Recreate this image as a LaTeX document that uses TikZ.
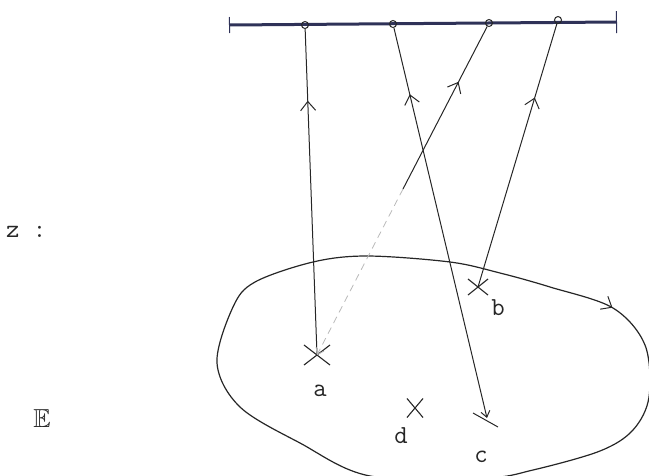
\documentclass[tikz,border=0pt]{standalone}
\usepackage{amssymb}
\usetikzlibrary{arrows.meta,calc,positioning,shapes.misc,decorations.markings}
\definecolor{RulerBlue}{HTML}{2F3258}
\definecolor{InkGray}{HTML}{262626}

\begin{document}
\begin{tikzpicture}[
    x=1pt, y=-1pt,
    every node/.style={font=\fontsize{26}{28}\selectfont\ttfamily, text=InkGray},
    pt/.style={cross out, draw=InkGray, line width=1.1pt, inner sep=0pt},
    hole/.style={circle, draw=InkGray, line width=1pt, inner sep=0pt, minimum size=7pt},
    lbl/.style={inner sep=0pt},
    ray/.style={draw=InkGray, line width=1pt},
    faintray/.style={draw=gray!55, line width=0.8pt, dash pattern=on 7pt off 5pt},
    ruler/.style={draw=RulerBlue, line width=3pt, {Bar[width=16pt,line width=1pt]}-{Bar[width=22pt,line width=1pt]}},
    midarrow/.style={postaction={decorate}, decoration={markings, mark=at position #1 with {\arrow{Straight Barb[length=9pt,width=15pt,line width=1pt]}}}},
    boundary/.style={draw=InkGray, line width=1.2pt}
]
  \useasboundingbox (0,0) rectangle (649,475);

  \node[lbl, anchor=base west] (zlab) at (6,237) {z :};
  \node[lbl] (elab) at (42,419) {$\mathbb{E}$};

  \coordinate (rl) at (229,25);
  \coordinate (rr) at (617,22);
  \draw[ruler] (rl) -- (rr);

  \node[hole] (p1) at (305,25) {};
  \node[hole] (p2) at (393,24) {};
  \node[hole] (p3) at (489,23) {};
  \node[hole] (p4) at (558,20) {};

  \node[pt, minimum width=25pt, minimum height=19pt] (a) at (317,355) {};
  \node[pt, minimum width=19pt, minimum height=15pt] (b) at (478,287) {};
  \node[pt, minimum width=15pt, minimum height=18pt] (d) at (415,408) {};
  \coordinate (c) at (487,418);

  \node[lbl, below=20pt of a, xshift=3pt] (la) {a};
  \node[lbl, below right=4pt and 3pt of b] (lb) {b};
  \node[lbl, below=33pt of c, xshift=-6pt] (lc) {c};
  \node[lbl, below=10pt of d, xshift=-14pt] (ld) {d};

  % the region
  \draw[boundary, midarrow=0.375] plot[smooth cycle, tension=0.55] coordinates {
    (217,363) (233,307) (255,282) (313,262) (367,256) (450,262) (500,273)
    (550,287) (613,308) (645,345) (649,397) (633,430) (600,451) (533,470)
    (485,478) (370,476) (300,443) (240,407)};

  \draw[ray, midarrow=0.78] (a.center) -- (p1);
  \draw[ray, midarrow=0.83, {Straight Barb[length=6pt,width=9pt,line width=1pt]}-] (c) -- (p2);
  \draw[ray] ($(c)+(-14,-5)$) -- ($(c)+(11,9)$);
  \coordinate (q3) at ($(a.center)!0.5!(p3)$);
  \draw[faintray, -{Straight Barb[length=6pt,width=9pt,line width=0.8pt]}] (q3) -- (a.center);
  \draw[ray, midarrow=0.66] (q3) -- (p3);
  \draw[ray, midarrow=0.72] (b.center) -- (p4);
\end{tikzpicture}
\end{document}
